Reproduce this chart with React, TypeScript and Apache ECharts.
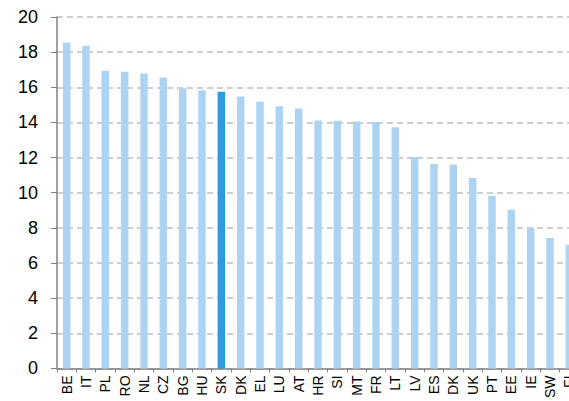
import React, { useEffect, useRef } from "react";
import * as echarts from "echarts";

const categories = ["BE","IT","PL","RO","NL","CZ","BG","HU","SK","DK","EL","LU","AT","HR","SI","MT","FR","LT","LV","ES","DK ","UK","PT","EE","IE","SW","FI"];
const values = [18.55,18.37,16.94,16.88,16.79,16.56,15.94,15.83,15.75,15.47,15.18,14.92,14.79,14.11,14.09,14.05,14.03,13.73,12.03,11.63,11.6,10.84,9.82,9.03,7.97,7.42,7.04];
const highlight = "SK";
const yTicks = { min: 0, max: 20, interval: 2 };

export default function App() {
  const ref = useRef<HTMLDivElement>(null);
  useEffect(() => {
    if (!ref.current) return;
    const chart = echarts.init(ref.current, null, { renderer: "svg" });
    chart.setOption({
      animation: false,
      grid: { left: 57, right: 21, top: 17, bottom: 31, containLabel: false },
      xAxis: {
        type: "category",
        data: categories,
        axisLine: { lineStyle: { color: "#808080", width: 1.5 } },
        axisTick: { show: true, length: 4, lineStyle: { color: "#808080" }, alignWithLabel: false },
        axisLabel: {
          rotate: 90,
          interval: 0,
          margin: 7,
          color: "#000",
          fontSize: 14,
          fontFamily: "Liberation Sans, Arial, sans-serif",
          formatter: (v: string) => v.trim(),
        },
      },
      yAxis: {
        type: "value",
        min: yTicks.min,
        max: yTicks.max,
        interval: yTicks.interval,
        axisLine: { show: true, lineStyle: { color: "#808080", width: 1.5 } },
        axisTick: { show: true, length: 6, inside: false, lineStyle: { color: "#808080" } },
        axisLabel: {
          color: "#000",
          fontSize: 18,
          margin: 19,
          fontFamily: "Liberation Sans, Arial, sans-serif",
        },
        splitLine: { show: true, lineStyle: { color: "#bfbfbf", type: [6, 4], width: 1.5 } },
      },
      series: [
        {
          type: "bar",
          barWidth: 7.5,
          data: values.map((v, i) => ({
            value: v,
            itemStyle: { color: categories[i] === highlight ? "#2e9be0" : "#acd4f2" },
          })),
        },
      ],
    });
    return () => chart.dispose();
  }, []);
  return (
    <div style={{ position: "fixed", left: 0, top: 0, width: 569, height: 401, overflow: "hidden", background: "#fff" }}>
      <div ref={ref} style={{ width: 600, height: 401 }} />
    </div>
  );
}
